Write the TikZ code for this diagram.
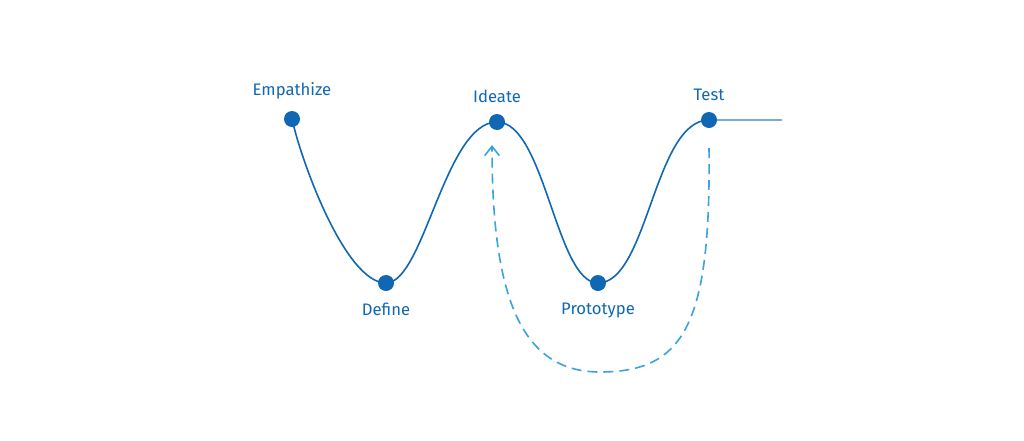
\documentclass[tikz,border=0pt]{standalone}
\usepackage{fontspec}
\setmainfont{Fira Sans}
\usetikzlibrary{arrows.meta,positioning,backgrounds}
\definecolor{dtblue}{HTML}{1068B5}
\definecolor{dtlight}{HTML}{3AA3DD}

\begin{document}
\begin{tikzpicture}[x=0.75pt,y=-0.75pt,
  stage/.style={circle,fill=dtblue,inner sep=0pt,minimum size=12pt},
  lbl/.style={text=dtblue,font=\fontsize{12.5}{14}\selectfont}]
  \useasboundingbox (0,0) rectangle (1024,440);
  \node[stage] (emp) at (292,119) {};
  \node[stage] (def) at (386,283) {};
  \node[stage] (ide) at (497,122) {};
  \node[stage] (pro) at (598,283) {};
  \node[stage] (tst) at (709,120) {};
  \coordinate (tail) at (782,120);
  \coordinate (loopstart) at (709,148);
  \coordinate (loopbot) at (600,372);
  \coordinate (loopend) at (492,145);
  \node[lbl,above=5pt of emp] (empl) {Empathize};
  \node[lbl,below=5pt of def] (defl) {Define};
  \node[lbl,above=5pt of ide] (idel) {Ideate};
  \node[lbl,below=5pt of pro] (prol) {Prototype};
  \node[lbl,above=5pt of tst] (tstl) {Test};
  \begin{scope}[on background layer]
    \draw[dtblue,line width=1.2pt] (emp.center) .. controls +(10,45) and +(-40,0) .. (def.center)
      .. controls +(38,0) and +(-52,0) .. (ide.center)
      .. controls +(48,0) and +(-42,0) .. (pro.center)
      .. controls +(50,0) and +(-55,0) .. (tst.center);
    \draw[dtblue!55,line width=1pt] (tst.center) -- (tail);
  \end{scope}
  \draw[dtlight,line width=1.2pt,dash pattern=on 7.5pt off 4.5pt,
        -{Straight Barb[length=7pt,width=11pt,line width=1.2pt]}]
    (loopstart) .. controls +(2,175) and +(85,0) .. (loopbot)
    .. controls +(-80,0) and +(0,150) .. (loopend);
\end{tikzpicture}
\end{document}
